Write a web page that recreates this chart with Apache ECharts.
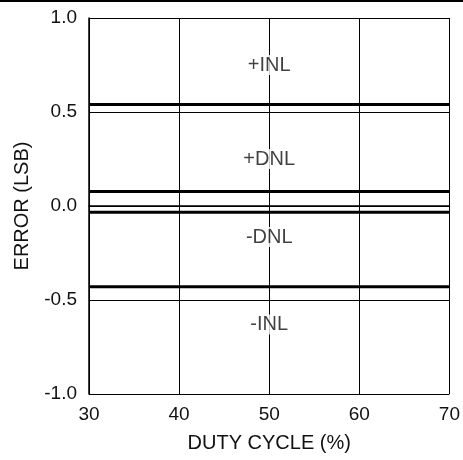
<!DOCTYPE html>
<html>
<head>
<meta charset="utf-8">
<script src="https://cdn.jsdelivr.net/npm/echarts@6/dist/echarts.min.js"></script>
<style>
  html, body { margin: 0; padding: 0; background: #fff; }
  #chart { width: 463px; height: 460px; }
</style>
</head>
<body>
<div id="chart"></div>
<script>
// duty cycle span of the measured curves
var dutyCycle = [30, 70];
// error levels (LSB), flat across duty cycle
var posInl = [0.54, 0.54];
var posDnl = [0.077, 0.077];
var negDnl = [-0.033, -0.033];
var negInl = [-0.43, -0.43];
// curve labels and where they sit
var curveNames = ['+INL', '+DNL', '-DNL', '-INL'];
var labelPos = [[50, 0.75], [50, 0.25], [50, -0.165], [50, -0.63]];

var font = 'Liberation Sans, Arial, sans-serif';

function pairs(ys) {
    return dutyCycle.map(function (x, i) { return [x, ys[i]]; });
}
function curve(name, ys) {
    return {
        name: name, type: 'line', data: pairs(ys), symbol: 'none',
        lineStyle: {color: '#000', width: 3}, z: 3
    };
}

var chart = echarts.init(document.getElementById('chart'));
chart.setOption({
    animation: false,
    grid: {left: 89, right: 11, top: 18, bottom: 66},
    graphic: [{
        type: 'line', shape: {x1: 0, y1: 1, x2: 463, y2: 1},
        style: {stroke: '#000', lineWidth: 2}
    }],
    xAxis: {
        type: 'value', min: 30, max: 70, interval: 10,
        name: 'DUTY CYCLE (%)', nameLocation: 'middle', nameGap: 39,
        nameTextStyle: {color: '#111', fontSize: 20, fontFamily: font},
        axisLine: {lineStyle: {color: '#000', width: 1.5}},
        axisTick: {show: false},
        axisLabel: {color: '#111', fontSize: 19, fontFamily: font, margin: 11},
        splitLine: {lineStyle: {color: '#000', width: 1}}
    },
    yAxis: {
        type: 'value', min: -1, max: 1, interval: 0.5,
        name: 'ERROR (LSB)', nameLocation: 'middle', nameGap: 57,
        nameTextStyle: {color: '#111', fontSize: 20, fontFamily: font},
        axisLine: {show: true, lineStyle: {color: '#000', width: 1.5}},
        axisTick: {show: false},
        axisLabel: {
            color: '#111', fontSize: 19, fontFamily: font, margin: 12,
            formatter: function (v) { return v.toFixed(1); }
        },
        splitLine: {lineStyle: {color: '#000', width: 1}}
    },
    series: [
        curve('+INL', posInl),
        curve('+DNL', posDnl),
        curve('-DNL', negDnl),
        curve('-INL', negInl),
        {
            type: 'scatter', symbolSize: 0, z: 5,
            data: labelPos.map(function (p, i) { return {value: p, name: curveNames[i]}; }),
            label: {
                show: true, position: 'inside', formatter: '{b}',
                color: '#111', fontSize: 20, fontFamily: font,
                backgroundColor: '#fff', padding: [0, 1]
            }
        }
    ]
});
</script>
</body>
</html>
